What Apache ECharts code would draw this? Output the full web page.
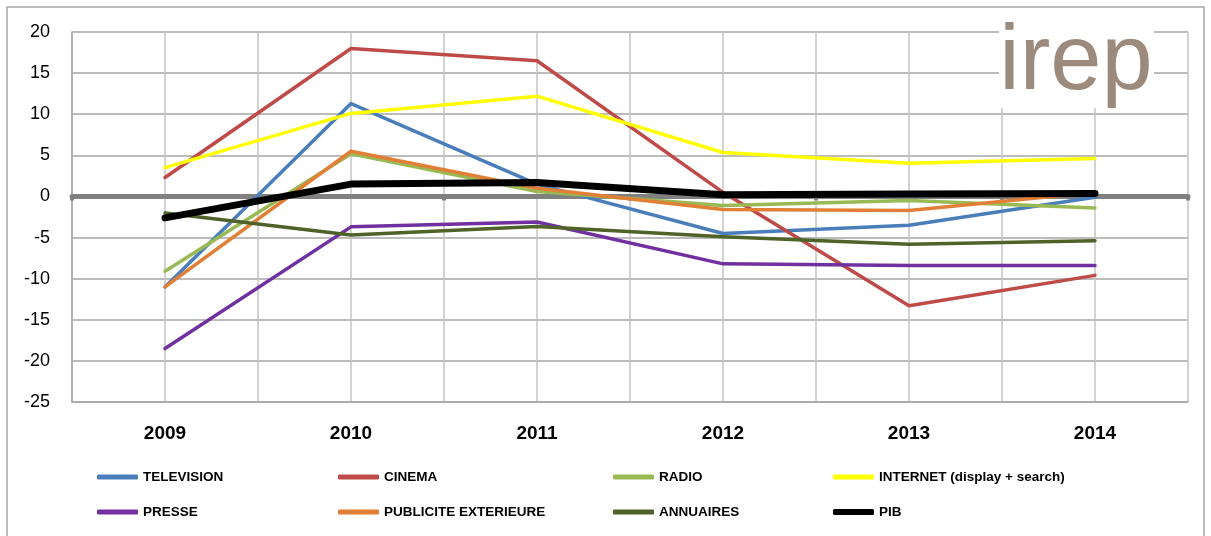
<!DOCTYPE html>
<html>
<head>
<meta charset="utf-8">
<script src="https://cdn.jsdelivr.net/npm/echarts@6/dist/echarts.min.js"></script>
<style>html,body{margin:0;padding:0;background:#fff}#c{width:1211px;height:536px}</style>
</head>
<body>
<div id="c"></div>
<script>
const years = ['2009','2010','2011','2012','2013','2014'];
const halfTicks = ['','','','','','','','','','','',''];
const yTicks = {min: -25, max: 20, interval: 5};

const television = [-11.0, 11.3, 1.5, -4.5, -3.5, -0.1];
const cinema = [2.3, 18.0, 16.5, 0.5, -13.3, -9.6];
const radio = [-9.1, 5.2, 0.6, -1.1, -0.5, -1.4];
const internet = [3.5, 10.1, 12.2, 5.35, 4.05, 4.6];
const presse = [-18.5, -3.7, -3.1, -8.2, -8.4, -8.4];
const pubExt = [-11.0, 5.5, 1.0, -1.6, -1.7, 0.5];
const annuaires = [-2.0, -4.7, -3.65, -4.9, -5.8, -5.4];
const pib = [-2.6, 1.5, 1.7, 0.2, 0.3, 0.35];

const names = ['TELEVISION','CINEMA','RADIO','INTERNET (display + search)','PRESSE','PUBLICITE EXTERIEURE','ANNUAIRES','PIB'];
const colors = ['#4A7EBB','#BE4B48','#98B954','#FFFF00','#7030A0','#E07F35','#4F6228','#000000'];
const values = [television, cinema, radio, internet, presse, pubExt, annuaires, pib];
const widths = [3.5,3.5,3.5,3.5,3.5,3.5,3.5,7];

const legendX = [97, 338, 613, 833, 97, 338, 613, 833];
const legendY = [477, 477, 477, 477, 512, 512, 512, 512];

const chart = echarts.init(document.getElementById('c'), null, {renderer: 'canvas'});

const series = names.map((n, i) => ({
  name: n,
  type: 'line',
  data: values[i],
  xAxisIndex: 0,
  symbol: 'none',
  showSymbol: false,
  lineStyle: {color: colors[i], width: widths[i], cap: 'round', join: 'round'},
  itemStyle: {color: colors[i]},
  emphasis: {disabled: true},
  animation: false,
  z: 3 + i
}));

const legends = names.map((n, i) => ({
  data: [{name: n, icon: 'roundRect', itemStyle: {color: colors[i]}}],
  left: legendX[i],
  top: legendY[i] - 8,
  padding: 0,
  itemWidth: 41,
  itemHeight: i === 7 ? 6 : 5,
  selectedMode: false,
  textStyle: {fontFamily: 'Liberation Sans', fontWeight: 'bold', fontSize: 13.5, color: '#000', lineHeight: 16}
}));

chart.setOption({
  animation: false,
  backgroundColor: '#fff',
  grid: {left: 72, right: 23, top: 32, bottom: 134},
  legend: legends,
  xAxis: [
    {
      type: 'category',
      data: years,
      boundaryGap: true,
      position: 'bottom',
      axisLine: {onZero: false, lineStyle: {color: '#A6A6A6', width: 1.5}},
      axisTick: {show: false},
      splitLine: {show: false},
      axisLabel: {fontFamily: 'Liberation Sans', fontWeight: 'bold', fontSize: 19, color: '#000', margin: 22}
    },
    {
      type: 'category',
      data: halfTicks,
      boundaryGap: true,
      position: 'bottom',
      axisLine: {show: true, onZero: true, onZeroAxisIndex: 0, lineStyle: {color: '#808080', width: 5}},
      axisTick: {show: true, length: 4, interval: function (idx) { return idx % 2 === 0; }, lineStyle: {color: '#808080', width: 4}},
      axisLabel: {show: false},
      splitLine: {show: true, interval: 0, lineStyle: {color: '#C4C4C4', width: 1.5}}
    }
  ],
  yAxis: {
    type: 'value',
    min: yTicks.min,
    max: yTicks.max,
    interval: yTicks.interval,
    axisLine: {show: true, lineStyle: {color: '#A6A6A6', width: 1.5}},
    axisTick: {show: false},
    splitLine: {show: true, lineStyle: {color: '#A6A6A6', width: 1.5}},
    axisLabel: {fontFamily: 'Liberation Sans', fontSize: 18, color: '#000', margin: 22}
  },
  graphic: [
    {type: 'rect', z: 100, silent: true, shape: {x: 7, y: 7, width: 1197, height: 540},
      style: {fill: 'none', stroke: '#A6A6A6', lineWidth: 1.5}},
    {type: 'rect', z: 100, silent: true, shape: {x: 999, y: 12, width: 155, height: 96},
      style: {fill: '#fff'}},
    {type: 'text', z: 101, silent: true, x: 1076, y: 64,
      style: {text: 'irep', fontFamily: 'Liberation Sans', fontSize: 92, fill: '#9C8B7C', align: 'center', verticalAlign: 'middle'}}
  ],
  series: series
});
</script>
</body>
</html>
